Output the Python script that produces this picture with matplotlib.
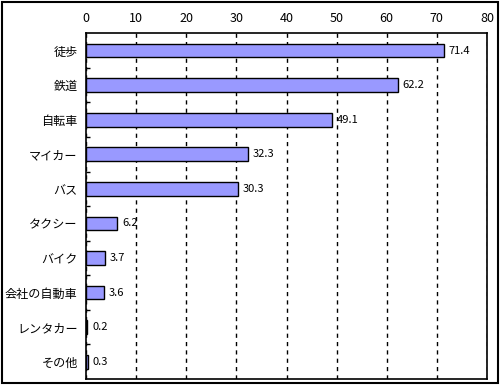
import numpy as np
import matplotlib.pyplot as plt
from matplotlib.patches import Rectangle

plt.rcParams['font.family'] = ['Noto Sans CJK JP', 'DejaVu Sans']

# 通勤手段 (%)
labels = ["徒歩", "鉄道", "自転車", "マイカー", "バス", "タクシー", "バイク", "会社の自動車", "レンタカー", "その他"]
values = [71.4, 62.2, 49.1, 32.3, 30.3, 6.2, 3.7, 3.6, 0.2, 0.3]
xticks = [0, 10, 20, 30, 40, 50, 60, 70, 80]

fig = plt.figure(figsize=(5, 3.85), dpi=100)
ax = fig.add_axes([0.172, 0.0156, 0.802, 0.898])

y = np.arange(len(labels))
ax.barh(y, values, height=0.4, color="#9999FF", edgecolor="black", linewidth=1, zorder=3)
for yi, v in zip(y, values):
    ax.text(v + 1.0, yi, f"{v:.1f}", va="center", ha="left", fontsize=8)

ax.set_xlim(0, 80)
ax.set_ylim(len(labels) - 0.5, -0.5)
ax.set_xticks(xticks)
ax.xaxis.tick_top()
ax.tick_params(axis="x", length=0, pad=6, labelsize=9)
ax.set_yticks(y)
ax.set_yticklabels(labels, fontsize=8.7)
ax.set_yticks(np.arange(len(labels) - 1) + 0.5, minor=True)
ax.tick_params(axis="y", which="major", length=0, pad=6)
ax.tick_params(axis="y", which="minor", length=3, direction="in", width=1)
ax.grid(axis="x", color="black", linestyle=(0, (3, 3)), linewidth=1, zorder=0)
for s in ax.spines.values():
    s.set_linewidth(1.2)

fig.patches.append(Rectangle((0.003, 0.004), 0.992, 0.992, transform=fig.transFigure,
                             fill=False, edgecolor="black", linewidth=1.5))

fig.savefig("out.png")
